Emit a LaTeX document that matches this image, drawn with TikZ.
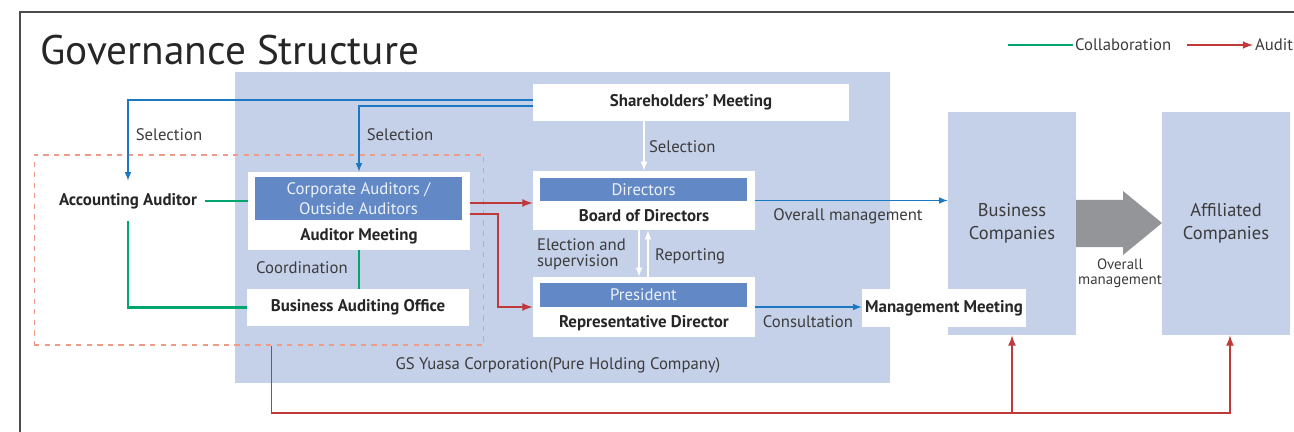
\documentclass[tikz,border=0pt]{standalone}
\usepackage{fontspec}
\setmainfont{PT Sans}
\usetikzlibrary{arrows,positioning}

\definecolor{holdblue}{HTML}{C5D0E9}
\definecolor{barblue}{HTML}{6289C6}
\definecolor{selblue}{HTML}{1C78C0}
\definecolor{colgreen}{HTML}{00A66E}
\definecolor{audred}{HTML}{C03A3C}
\definecolor{zonered}{HTML}{EE9C88}
\definecolor{arrgray}{HTML}{939598}
\definecolor{txtgray}{HTML}{3C3C3C}

\tikzset{
  wbox/.style={fill=white, inner sep=0pt},
  titlebar/.style={fill=barblue, text=white!88!barblue, inner sep=0pt, align=center,
    font=\fontsize{9.5}{11}\selectfont},
  boxtxt/.style={text=black!85, font=\bfseries\fontsize{9.6}{12}\selectfont},
  lbl/.style={text=txtgray, font=\fontsize{9.5}{10}\selectfont, align=left, inner sep=1pt},
  compbox/.style={fill=holdblue, inner sep=0pt, minimum width=2.56cm, minimum height=4.46cm,
    text=txtgray, align=center, font=\fontsize{10.5}{13}\selectfont},
  selline/.style={draw=selblue, line width=0.7pt, -latex},
  wline/.style={draw=white, line width=0.8pt, -latex},
  colline/.style={draw=colgreen, line width=1.2pt},
  audline/.style={draw=audred, line width=1pt, -latex}
}

\begin{document}
\begin{tikzpicture}[x=0.02cm, y=-0.02cm]
\useasboundingbox (0,0) rectangle (1294,432);

\draw[black!70, line width=0.6pt] (20,432) -- (20,12) -- (1294,12);
\node[anchor=base west, inner sep=0pt, text=black!85, font=\fontsize{23.5}{28}\selectfont] (title) at (40,65) {Governance Structure};

% legend
\node[lbl, anchor=west] (legcol) at (1073,45) {Collaboration};
\draw[colline] (1008,45) -- (legcol.west);
\node[lbl, anchor=west] (legaud) at (1253,45) {Audit};
\draw[audline] (1187,45) -- (legaud.west);

% holding company
\node[fill=holdblue, inner sep=0pt, minimum width=13.1cm, minimum height=6.22cm] (hold) at (562.5,227.5) {};
\node[lbl] (holdtxt) at (558,365) {GS Yuasa Corporation(Pure Holding Company)};

\node[draw=zonered, dashed, line width=0.6pt, inner sep=0pt, minimum width=9cm, minimum height=3.8cm] (audzone) at (259,250) {};

\node[wbox, minimum width=6.32cm, minimum height=0.74cm, boxtxt] (share) at (691,102.5) {Shareholders' Meeting};

\node[wbox, minimum width=4.44cm, minimum height=1.18cm] (board) at (644,200.5) {};
\node[titlebar, minimum width=4.14cm, minimum height=0.46cm] (dirbar) at (643.5,189.5) {Directors};
\node[boxtxt] (boardtxt) at (644,216) {Board of Directors};

\node[wbox, minimum width=4.44cm, minimum height=1.2cm] (rep) at (644,307) {};
\node[titlebar, minimum width=4.14cm, minimum height=0.48cm] (presbar) at (643.5,295) {President};
\node[boxtxt] (reptxt) at (644,323) {Representative Director};

\node[wbox, minimum width=4.44cm, minimum height=1.56cm] (audm) at (359,211) {};
\node[titlebar, minimum width=4.14cm, minimum height=0.86cm] (audbar) at (358.5,198.5) {Corporate Auditors /\\Outside Auditors};
\node[boxtxt] (audmtxt) at (359,236) {Auditor Meeting};

\node[wbox, minimum width=4.44cm, minimum height=0.74cm, boxtxt] (bao) at (358,307.5) {Business Auditing Office};

\node[wbox, inner xsep=0.16cm, minimum height=0.8cm, boxtxt] (accaud) at (128,201) {Accounting Auditor};

% group companies
\node[compbox] (buscomp) at (1012,223.5) {Business\\Companies};
\node[compbox] (affcomp) at (1226,223.5) {Affiliated\\Companies};
\fill[arrgray] (1076,200) -- (1123,200) -- (1123,191) -- (1162,223) -- (1123,255) -- (1123,247) -- (1076,247) -- cycle;
\node[lbl, align=center, font=\fontsize{8.5}{8.5}\selectfont] (grptxt) at (1120,273) {Overall\\management};

\node[wbox, minimum width=3.28cm, minimum height=0.76cm, boxtxt] (mgmt) at (944,308) {Management Meeting};

% selection
\draw[selline] ([yshift=0.05cm]share.west) -| (accaud.north);
\draw[selline] ([yshift=-0.07cm]share.west) -| (audm.north);
\node[lbl] at (169,135) {Selection};
\node[lbl] at (400,135) {Selection};
\draw[wline] (board.north |- share.south) -- (board.north);
\node[lbl, anchor=west] at (647,147) {Selection};

\draw[wline] ([xshift=-0.1cm]board.south) -- ([xshift=-0.1cm]rep.north);
\draw[wline] ([xshift=0.08cm]rep.north) -- ([xshift=0.08cm]board.south);
\node[lbl, anchor=west, font=\fontsize{9.5}{9}\selectfont] at (535,254) {Election and\\supervision};
\node[lbl, anchor=west] at (653,256) {Reporting};

\draw[selline] (board.east) -- (board.east -| buscomp.west);
\node[lbl] at (848,216) {Overall management};
\draw[selline] (rep.east) -- (rep.east -| mgmt.west);
\node[lbl] at (808,322) {Consultation};

% collaboration
\draw[colline] (accaud.east) -- (accaud.east -| audm.west);
\draw[colline] (accaud.south) |- (bao.west);
\draw[colline] (audm.south) -- (audm.south |- bao.north);
\node[lbl] at (302,268) {Coordination};

% audit
\draw[audline] ([yshift=0.16cm]audm.east) -- ([yshift=0.16cm]audm.east -| board.west);
\draw[audline] ([yshift=-0.06cm]audm.east) -- ++(28,0) |- (rep.west);
\draw[audline] ([xshift=4.76cm]audzone.south west) |- (1230,413) -- (affcomp.south -| 1230,0);
\draw[audline] (buscomp.south |- 0,413) -- (buscomp.south);

\end{tikzpicture}
\end{document}
